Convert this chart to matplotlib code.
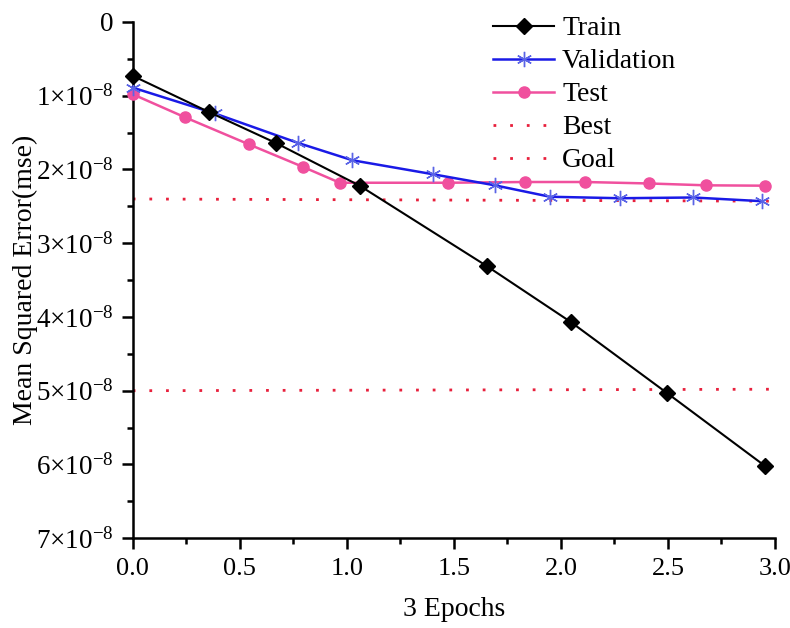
import matplotlib
matplotlib.use("Agg")
import matplotlib.pyplot as plt
from matplotlib.ticker import MultipleLocator, FuncFormatter

# ---- data ----
train_x = [0.0, 0.355, 0.668, 1.06, 1.654, 2.047, 2.495, 2.953]
train_y = [0.73e-8, 1.22e-8, 1.64e-8, 2.22e-8, 3.31e-8, 4.07e-8, 5.03e-8, 6.02e-8]

val_x = [0.0, 0.383, 0.772, 1.026, 1.403, 1.692, 1.949, 2.276, 2.618, 2.938]
val_y = [0.89e-8, 1.24e-8, 1.64e-8, 1.875e-8, 2.065e-8, 2.215e-8, 2.37e-8, 2.39e-8, 2.38e-8, 2.43e-8]

test_x = [0.0, 0.246, 0.543, 0.796, 0.967, 1.473, 1.832, 2.112, 2.413, 2.678, 2.953]
test_y = [0.98e-8, 1.295e-8, 1.66e-8, 1.966e-8, 2.18e-8, 2.18e-8, 2.17e-8, 2.17e-8, 2.19e-8, 2.215e-8, 2.22e-8]

best_x = [0.0, 3.0]
best_y = [2.40e-8, 2.43e-8]
goal_x = [0.0, 3.0]
goal_y = [5.0e-8, 4.98e-8]

labels = ["Train", "Validation", "Test", "Best", "Goal"]
xlabel = "3 Epochs"
ylabel = "Mean Squared Error(mse)"

plt.rcParams['font.family'] = ['Liberation Serif', 'DejaVu Serif']
plt.rcParams['mathtext.fontset'] = 'custom'
plt.rcParams['mathtext.rm'] = 'Liberation Serif'
plt.rcParams['mathtext.it'] = 'Liberation Serif:italic'

fig = plt.figure(figsize=(7.9, 6.28), dpi=100)
ax = fig.add_axes([0.168, 0.143, 0.813, 0.822])

ax.plot(train_x, train_y, color='black', lw=1.5, marker='D', ms=8,
        label=labels[0], clip_on=False, zorder=5)
ax.plot(val_x, val_y, color='#1a1ae6', lw=1.8, marker=(6, 2, 0), ms=11,
        mec='#5a64e6', mew=1.0, label=labels[1], clip_on=False, zorder=4)
ax.plot(test_x, test_y, color='#f0509e', lw=1.8, marker='o', ms=8,
        mec='#f0509e', mfc='#f0509e', label=labels[2], clip_on=False, zorder=3)
ax.plot(best_x, best_y, color='#e8203c', lw=2, ls=(0, (1, 5)), label=labels[3])
ax.plot(goal_x, goal_y, color='#e8203c', lw=2, ls=(0, (1, 5)), label=labels[4])

ax.set_xlim(0, 3.0)
ax.set_ylim(7e-8, 0)
ax.xaxis.set_major_locator(MultipleLocator(0.5))
ax.xaxis.set_minor_locator(MultipleLocator(0.25))
ax.yaxis.set_major_locator(MultipleLocator(1e-8))
ax.yaxis.set_minor_locator(MultipleLocator(0.5e-8))
ax.xaxis.set_major_formatter(FuncFormatter(lambda v, p: f"{v:.1f}"))

def yfmt(v, p):
    n = int(round(v / 1e-8))
    if n == 0:
        return "0"
    return r"$%d{\times}10^{\mathrm{-8}}$" % n
ax.yaxis.set_major_formatter(FuncFormatter(yfmt))

for s in ['top', 'right']:
    ax.spines[s].set_visible(False)
for s in ['left', 'bottom']:
    ax.spines[s].set_linewidth(1.8)

ax.tick_params(axis='both', which='major', direction='out', length=8, width=1.8,
               labelsize=19, pad=6)
ax.tick_params(axis='y', which='major', labelsize=19.5)
ax.tick_params(axis='both', which='minor', direction='out', length=4, width=1.8)

ax.set_xlabel(xlabel, fontsize=20)
ax.xaxis.set_label_coords(0.5, -0.114)
ax.set_ylabel(ylabel, fontsize=20)
ax.yaxis.set_label_coords(-0.148, 0.5)

leg = fig.legend(loc='upper left', bbox_to_anchor=(493 / 790, 1 - 16 / 628),
                 frameon=False, fontsize=20, handlelength=2.2, handletextpad=0.29,
                 labelspacing=0.27, borderpad=0, borderaxespad=0)

fig.savefig("out.png", dpi=100)
